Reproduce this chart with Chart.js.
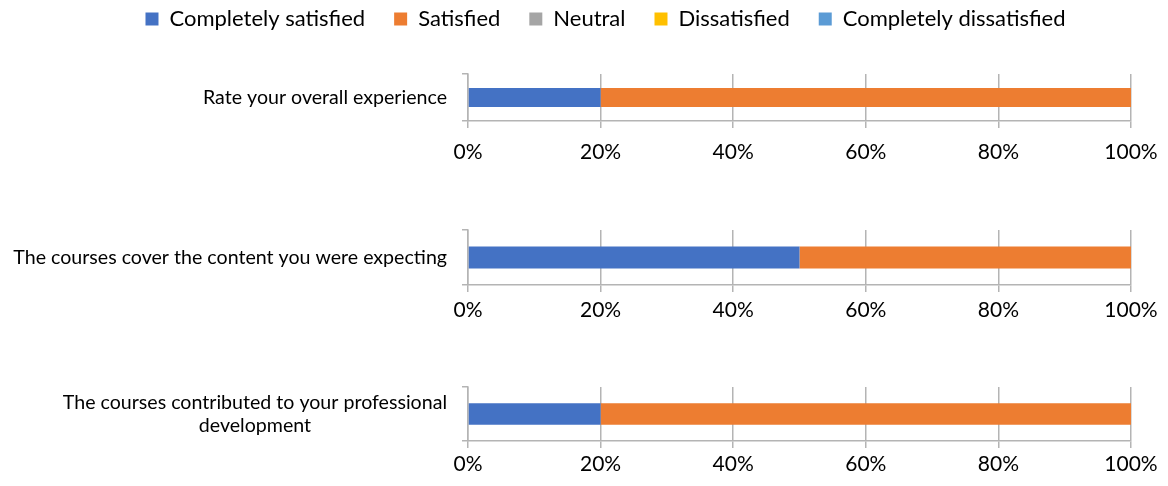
<!DOCTYPE html>
<html>
<head>
<meta charset="utf-8">
<script src="https://cdn.jsdelivr.net/npm/chart.js@4.4.1/dist/chart.umd.min.js"></script>
<style>
  html, body { margin: 0; padding: 0; background: #fff; width: 1168px; height: 486px; overflow: hidden; }
  .panel { position: absolute; left: 0; }
  canvas { display: block; }
</style>
</head>
<body>
<div class="panel" id="p1" style="top:-21px"><canvas id="c1" width="1168" height="202"></canvas></div>
<div class="panel" id="p2" style="top:225px"><canvas id="c2" width="1168" height="120"></canvas></div>
<div class="panel" id="p3" style="top:382px"><canvas id="c3" width="1168" height="119"></canvas></div>
<script>
// ---- data ----
const categories = [
  "Rate your overall experience",
  "The courses cover the content you were expecting",
  ["The courses contributed to your professional", "development"]
];
const seriesNames = ["Completely satisfied", "Satisfied", "Neutral", "Dissatisfied", "Completely dissatisfied"];
const completelySatisfied    = [20, 50, 20];
const satisfied              = [80, 50, 80];
const neutral                = [0, 0, 0];
const dissatisfied           = [0, 0, 0];
const completelyDissatisfied = [0, 0, 0];
const xTickValues = [0, 20, 40, 60, 80, 100];

// ---- style ----
const seriesColors = ["#4472C4", "#ED7D31", "#A5A5A5", "#FFC000", "#5B9BD5"];
const gridColor = "#b4b4b4";
const FONT = "Lato, 'Open Sans', sans-serif";
Chart.defaults.font.family = FONT;
Chart.defaults.color = "#000";

const allSeries = [completelySatisfied, satisfied, neutral, dissatisfied, completelyDissatisfied];

function makeChart(canvasId, idx, opts) {
  const datasets = seriesNames.map((name, s) => ({
    label: name,
    data: [allSeries[s][idx]],
    backgroundColor: seriesColors[s],
    borderWidth: 0,
    barPercentage: 0.4,
    categoryPercentage: 1.0
  }));
  const plugins = [];
  if (opts.legendHeight) {
    plugins.push({
      id: 'legendHeight',
      beforeUpdate(chart) {
        const lg = chart.legend;
        if (lg && !lg._patched) {
          const f = lg.fit;
          lg.fit = function () { f.call(this); this.height = opts.legendHeight; };
          lg._patched = true;
        }
      }
    });
  }
  return new Chart(document.getElementById(canvasId), {
    type: 'bar',
    data: { labels: [categories[idx]], datasets },
    plugins,
    options: {
      indexAxis: 'y',
      responsive: false,
      animation: false,
      layout: { padding: { left: opts.padLeft, right: 37, top: opts.padTop, bottom: 0 } },
      plugins: {
        tooltip: { enabled: false },
        legend: {
          display: !!opts.legendHeight,
          position: 'top',
          align: 'center',
          labels: {
            boxWidth: 13,
            boxHeight: 13,
            padding: 29,
            font: { size: 22, family: FONT },
            color: '#000'
          }
        }
      },
      scales: {
        x: {
          stacked: true,
          min: 0,
          max: 100,
          afterBuildTicks(scale) { scale.ticks = xTickValues.map(v => ({ value: v })); },
          afterFit(scale) { scale.height = 60; scale.paddingLeft = 0; scale.paddingRight = 0; },
          ticks: {
            callback: v => v + '%',
            font: { size: 21, family: FONT },
            color: '#000',
            padding: opts.xPad,
            maxRotation: 0
          },
          grid: { color: gridColor, lineWidth: 1.5, drawTicks: true, tickLength: 7 },
          border: { display: true, color: gridColor, width: 1.5 }
        },
        y: {
          stacked: true,
          afterFit(scale) { scale.width = 468 - opts.padLeft; scale.paddingTop = 0; scale.paddingBottom = 0; },
          ticks: {
            crossAlign: 'center',
            font: { size: 19.6, family: FONT },
            color: '#000',
            padding: 15
          },
          grid: { color: gridColor, lineWidth: 1.5, drawOnChartArea: false, drawTicks: true, tickLength: 6 },
          border: { display: true, color: gridColor, width: 1.5 }
        }
      }
    }
  });
}

makeChart('c1', 0, { padLeft: 80, padTop: 0, legendHeight: 95, xPad: 12 });
makeChart('c2', 1, { padLeft: 0, padTop: 5, xPad: 6 });
makeChart('c3', 2, { padLeft: 0, padTop: 5, xPad: 4 });
</script>
</body>
</html>
